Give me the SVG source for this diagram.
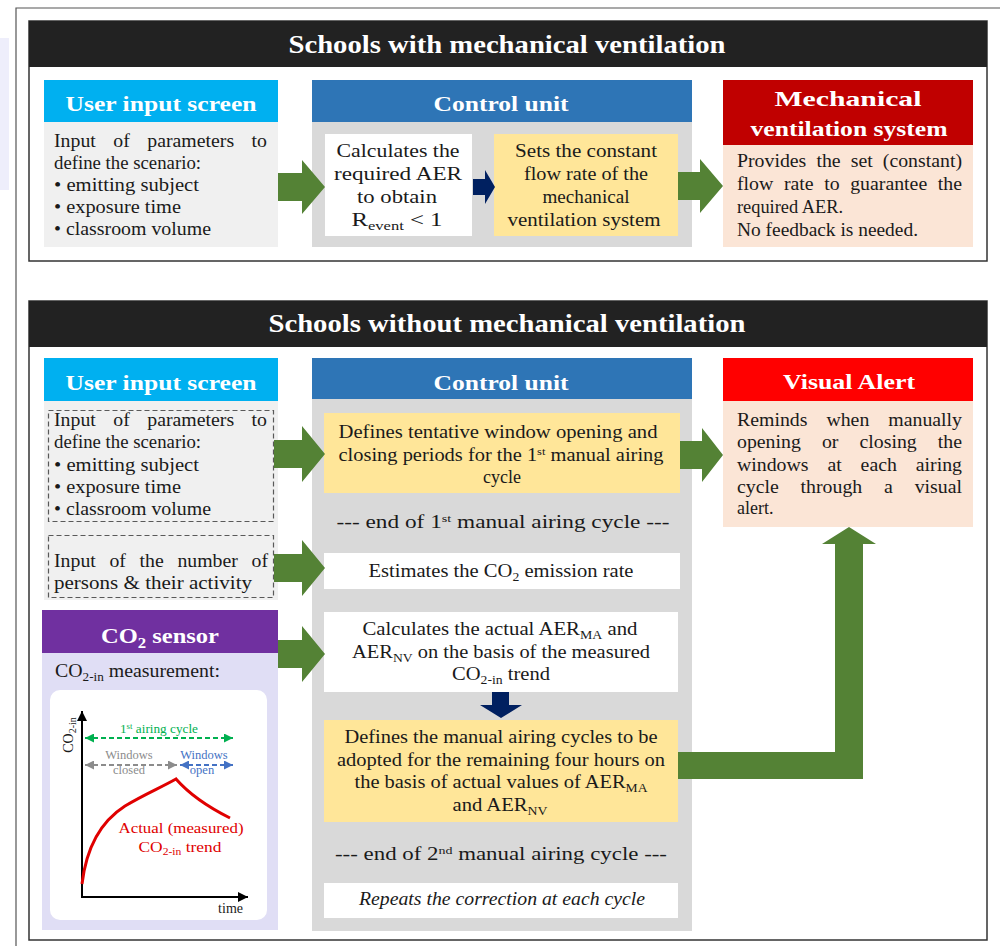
<svg xmlns="http://www.w3.org/2000/svg" width="1000" height="946" viewBox="0 0 1000 946">
<style>
.t{font-family:"Liberation Serif","Times New Roman",serif;font-size:18px;fill:#1a1a1a}
.m{text-anchor:middle}
.hd{font-family:"Liberation Serif","Times New Roman",serif;font-weight:bold;font-size:22px;fill:#fff;text-anchor:middle}
.ttl{font-size:26px}
.sub{font-size:12px}
.sup{font-size:11px}
.box{stroke:none}
.green{fill:#548235}
.navy{fill:#002060}
.dash{fill:none;stroke:#595959;stroke-width:1.2;stroke-dasharray:5 3}
.ch{font-family:"Liberation Serif","Times New Roman",serif}
</style>
<defs>
<marker id="mg" viewBox="0 0 10 10" refX="10" refY="5" markerWidth="5" markerHeight="5" orient="auto-start-reverse" markerUnits="strokeWidth"><path d="M0,0 L10,5 L0,10 z" fill="#00b050"/></marker>
<marker id="mgr" viewBox="0 0 10 10" refX="10" refY="5" markerWidth="5" markerHeight="5" orient="auto-start-reverse" markerUnits="strokeWidth"><path d="M0,0 L10,5 L0,10 z" fill="#8c8c8c"/></marker>
<marker id="mb" viewBox="0 0 10 10" refX="10" refY="5" markerWidth="5" markerHeight="5" orient="auto-start-reverse" markerUnits="strokeWidth"><path d="M0,0 L10,5 L0,10 z" fill="#4472c4"/></marker>
<marker id="mk" viewBox="0 0 10 10" refX="10" refY="5" markerWidth="5" markerHeight="5" orient="auto" markerUnits="strokeWidth"><path d="M0,0 L10,5 L0,10 z" fill="#000"/></marker>
</defs>
<rect width="1000" height="946" fill="#fff"/>
<rect x="0" y="38" width="9" height="152" fill="#eeeefb"/>
<path d="M16,946 V8 H1000" fill="none" stroke="#555" stroke-width="1.2"/>

<!-- ============ TOP SECTION ============ -->
<g id="section-mechanical">
<rect x="29" y="21" width="958" height="240" fill="#fff" stroke="#333" stroke-width="1.5"/>
<rect x="29" y="21" width="958" height="46" fill="#222"/>
<text class="hd ttl" x="507" y="53" textLength="437" lengthAdjust="spacingAndGlyphs">Schools with mechanical ventilation</text>
</g>

<g id="mech-user-input">
<rect x="44" y="80" width="234" height="42" fill="#00b0f0"/>
<rect x="44" y="122" width="234" height="125" fill="#f0f0f0"/>
<text class="hd" x="161" y="111" textLength="191" lengthAdjust="spacingAndGlyphs">User input screen</text>
<text class="t" x="54" y="147" word-spacing="11.4" textLength="213" lengthAdjust="spacingAndGlyphs">Input of parameters to</text>
<text class="t" x="54" y="169" textLength="147" lengthAdjust="spacingAndGlyphs">define the scenario:</text>
<text class="t" x="54" y="191" textLength="145" lengthAdjust="spacingAndGlyphs">• emitting subject</text>
<text class="t" x="54" y="213" textLength="127" lengthAdjust="spacingAndGlyphs">• exposure time</text>
<text class="t" x="54" y="235" textLength="157" lengthAdjust="spacingAndGlyphs">• classroom volume</text>
</g>

<g id="mech-control-unit">
<rect x="312" y="80" width="380" height="42" fill="#2e75b6"/>
<rect x="312" y="122" width="380" height="125" fill="#d9d9d9"/>
<text class="hd" x="501" y="111" textLength="135" lengthAdjust="spacingAndGlyphs">Control unit</text>
</g>

<g id="mech-calc">
<rect x="325" y="134" width="147" height="102" fill="#fff"/>
<text class="t m" x="398" y="157" textLength="123" lengthAdjust="spacingAndGlyphs">Calculates the</text>
<text class="t m" x="398" y="180" textLength="128" lengthAdjust="spacingAndGlyphs">required AER</text>
<text class="t m" x="397" y="203" textLength="80" lengthAdjust="spacingAndGlyphs">to obtain</text>
<text class="t m" x="397" y="226" textLength="91" lengthAdjust="spacingAndGlyphs">R<tspan class="sub" dy="4">event</tspan><tspan dy="-4"> &lt; 1</tspan></text>
</g>

<g id="mech-set">
<rect x="494" y="134" width="184" height="102" fill="#ffe699"/>
<text class="t m" x="586" y="157" textLength="142" lengthAdjust="spacingAndGlyphs">Sets the constant</text>
<text class="t m" x="586" y="180" textLength="124" lengthAdjust="spacingAndGlyphs">flow rate of the</text>
<text class="t m" x="586" y="203" textLength="87" lengthAdjust="spacingAndGlyphs">mechanical</text>
<text class="t m" x="584" y="226" textLength="153" lengthAdjust="spacingAndGlyphs">ventilation system</text>
</g>

<g id="mech-system">
<rect x="723" y="80" width="250" height="65" fill="#c00000"/>
<rect x="723" y="145" width="250" height="102" fill="#fbe5d6"/>
<text class="hd" x="848" y="106" textLength="147" lengthAdjust="spacingAndGlyphs">Mechanical</text>
<text class="hd" x="849" y="136" textLength="197" lengthAdjust="spacingAndGlyphs">ventilation system</text>
<text class="t" x="737" y="167" word-spacing="4.7" textLength="225" lengthAdjust="spacingAndGlyphs">Provides the set (constant)</text>
<text class="t" x="737" y="190" word-spacing="5.1" textLength="225" lengthAdjust="spacingAndGlyphs">flow rate to guarantee the</text>
<text class="t" x="737" y="213" textLength="106" lengthAdjust="spacingAndGlyphs">required AER.</text>
<text class="t" x="737" y="236" textLength="181" lengthAdjust="spacingAndGlyphs">No feedback is needed.</text>
</g>

<!-- ============ BOTTOM SECTION ============ -->
<g id="section-natural">
<rect x="29" y="301" width="958" height="639" fill="#fff" stroke="#333" stroke-width="1.5"/>
<rect x="29" y="301" width="958" height="46" fill="#222"/>
<text class="hd ttl" x="507" y="332" textLength="477" lengthAdjust="spacingAndGlyphs">Schools without mechanical ventilation</text>
</g>

<g id="nat-user-input">
<rect x="44" y="358" width="234" height="43" fill="#00b0f0"/>
<rect x="44" y="401" width="234" height="199" fill="#f0f0f0"/>
<text class="hd" x="161" y="390" textLength="191" lengthAdjust="spacingAndGlyphs">User input screen</text>
</g>

<g id="nat-input-params">
<rect class="dash" x="48.5" y="410.5" width="225" height="111"/>
<text class="t" x="54" y="426" word-spacing="11.4" textLength="213" lengthAdjust="spacingAndGlyphs">Input of parameters to</text>
<text class="t" x="54" y="448" textLength="147" lengthAdjust="spacingAndGlyphs">define the scenario:</text>
<text class="t" x="54" y="471" textLength="145" lengthAdjust="spacingAndGlyphs">• emitting subject</text>
<text class="t" x="54" y="493" textLength="127" lengthAdjust="spacingAndGlyphs">• exposure time</text>
<text class="t" x="54" y="515" textLength="157" lengthAdjust="spacingAndGlyphs">• classroom volume</text>
</g>

<g id="nat-input-persons">
<rect class="dash" x="48.5" y="535.5" width="225" height="62"/>
<text class="t" x="54" y="567" word-spacing="7.9" textLength="214" lengthAdjust="spacingAndGlyphs">Input of the number of</text>
<text class="t" x="54" y="589" textLength="198" lengthAdjust="spacingAndGlyphs">persons &amp; their activity</text>
</g>

<g id="co2-sensor">
<rect x="42" y="610" width="236" height="43" fill="#7030a0"/>
<rect x="42" y="653" width="236" height="277" fill="#e0def5"/>
<text class="hd" x="160" y="643" textLength="118" lengthAdjust="spacingAndGlyphs">CO<tspan font-size="15" dy="5">2</tspan><tspan dy="-5"> sensor</tspan></text>
<text class="t" x="55" y="677" textLength="165" lengthAdjust="spacingAndGlyphs">CO<tspan class="sub" dy="4">2-in</tspan><tspan dy="-4"> measurement:</tspan></text>
<rect x="50" y="690" width="217" height="230" rx="10" fill="#fff"/>
<!-- chart -->
<line x1="82" y1="897" x2="82" y2="711" stroke="#000" stroke-width="2" marker-end="url(#mk)"/>
<line x1="81" y1="897" x2="248" y2="897" stroke="#000" stroke-width="2" marker-end="url(#mk)"/>
<text class="ch" x="68" y="735" font-size="14" fill="#1a1a1a" text-anchor="middle" transform="rotate(-90 68 735)" dy="5">CO<tspan font-size="10" dy="3">2-in</tspan></text>
<text class="ch" x="243" y="913" font-size="14" fill="#1a1a1a" text-anchor="end">time</text>
<line x1="85" y1="738" x2="233" y2="738" stroke="#00b050" stroke-width="1.8" stroke-dasharray="5 3" marker-start="url(#mg)" marker-end="url(#mg)"/>
<text class="ch" x="159" y="733" font-size="12" fill="#00b050" text-anchor="middle" textLength="78" lengthAdjust="spacingAndGlyphs">1<tspan font-size="8" dy="-4">st</tspan><tspan dy="4"> airing cycle</tspan></text>
<line x1="85" y1="765" x2="177" y2="765" stroke="#8c8c8c" stroke-width="1.8" stroke-dasharray="5 3" marker-start="url(#mgr)" marker-end="url(#mgr)"/>
<line x1="180" y1="765" x2="233" y2="765" stroke="#4472c4" stroke-width="1.8" stroke-dasharray="5 3" marker-start="url(#mb)" marker-end="url(#mb)"/>
<text class="ch" x="129" y="759" font-size="12.5" fill="#8c8c8c" text-anchor="middle">Windows</text>
<text class="ch" x="129" y="774" font-size="12.5" fill="#8c8c8c" text-anchor="middle">closed</text>
<text class="ch" x="204" y="759" font-size="12.5" fill="#4472c4" text-anchor="middle">Windows</text>
<text class="ch" x="202" y="774" font-size="12.5" fill="#4472c4" text-anchor="middle">open</text>
<path d="M82,884 C86,850 100,822 125,806 C145,794 160,788 176,779 C190,795 208,807 230,818" fill="none" stroke="#e00000" stroke-width="3"/>
<text class="ch" x="181" y="833" font-size="15" fill="#e00000" text-anchor="middle" textLength="125" lengthAdjust="spacingAndGlyphs">Actual (measured)</text>
<text class="ch" x="180" y="852" font-size="15" fill="#e00000" text-anchor="middle" textLength="83" lengthAdjust="spacingAndGlyphs">CO<tspan font-size="10" dy="3">2-in</tspan><tspan dy="-3"> trend</tspan></text>
</g>

<g id="nat-control-unit">
<rect x="312" y="358" width="380" height="41" fill="#2e75b6"/>
<rect x="312" y="399" width="380" height="532" fill="#d9d9d9"/>
<text class="hd" x="501" y="390" textLength="135" lengthAdjust="spacingAndGlyphs">Control unit</text>
</g>

<g id="nat-define-tentative">
<rect x="324" y="413" width="356" height="80" fill="#ffe699"/>
<text class="t m" x="498" y="438" textLength="319" lengthAdjust="spacingAndGlyphs">Defines tentative window opening and</text>
<text class="t m" x="501" y="461" textLength="325" lengthAdjust="spacingAndGlyphs">closing periods for the 1<tspan class="sup" dy="-6">st</tspan><tspan dy="6"> manual airing</tspan></text>
<text class="t m" x="502" y="483">cycle</text>
</g>

<g id="nat-end-first">
<text class="t m" x="503" y="528" textLength="333" lengthAdjust="spacingAndGlyphs">---   end of 1<tspan class="sup" dy="-6">st</tspan><tspan dy="6"> manual airing cycle   ---</tspan></text>
</g>

<g id="nat-estimate">
<rect x="324" y="553" width="356" height="36" fill="#fff"/>
<text class="t m" x="501" y="577" textLength="265" lengthAdjust="spacingAndGlyphs">Estimates the CO<tspan class="sub" dy="4">2</tspan><tspan dy="-4"> emission rate</tspan></text>
</g>

<g id="nat-calculate">
<rect x="324" y="612" width="354" height="80" fill="#fff"/>
<text class="t m" x="500" y="635" textLength="275" lengthAdjust="spacingAndGlyphs">Calculates the actual AER<tspan class="sub" dy="4">MA</tspan><tspan dy="-4"> and</tspan></text>
<text class="t m" x="501" y="658" textLength="298" lengthAdjust="spacingAndGlyphs">AER<tspan class="sub" dy="4">NV</tspan><tspan dy="-4"> on the basis of the measured</tspan></text>
<text class="t m" x="501" y="680" textLength="98" lengthAdjust="spacingAndGlyphs">CO<tspan class="sub" dy="4">2-in</tspan><tspan dy="-4"> trend</tspan></text>
</g>

<g id="nat-define-manual">
<rect x="324" y="720" width="354" height="102" fill="#ffe699"/>
<text class="t m" x="501" y="743" textLength="313" lengthAdjust="spacingAndGlyphs">Defines the manual airing cycles to be</text>
<text class="t m" x="501" y="766" textLength="328" lengthAdjust="spacingAndGlyphs">adopted for the remaining four hours on</text>
<text class="t m" x="501" y="788" textLength="293" lengthAdjust="spacingAndGlyphs">the basis of actual values of AER<tspan class="sub" dy="4">MA</tspan></text>
<text class="t m" x="500" y="811" textLength="95" lengthAdjust="spacingAndGlyphs">and AER<tspan class="sub" dy="4">NV</tspan></text>
</g>

<g id="nat-end-second">
<text class="t m" x="501" y="860" textLength="332" lengthAdjust="spacingAndGlyphs">---   end of 2<tspan class="sup" dy="-6">nd</tspan><tspan dy="6"> manual airing cycle ---</tspan></text>
</g>

<g id="nat-repeat">
<rect x="324" y="883" width="354" height="35" fill="#fff"/>
<text class="t m" x="502" y="905" font-style="italic" textLength="286" lengthAdjust="spacingAndGlyphs">Repeats the correction at each cycle</text>
</g>

<g id="visual-alert">
<rect x="723" y="358" width="250" height="43" fill="#ff0000"/>
<rect x="723" y="401" width="250" height="126" fill="#fbe5d6"/>
<text class="hd" x="849" y="389" textLength="132" lengthAdjust="spacingAndGlyphs">Visual Alert</text>
<text class="t" x="737" y="426" word-spacing="12.8" textLength="225" lengthAdjust="spacingAndGlyphs">Reminds when manually</text>
<text class="t" x="737" y="448" word-spacing="14.7" textLength="225" lengthAdjust="spacingAndGlyphs">opening or closing the</text>
<text class="t" x="737" y="471" word-spacing="12.7" textLength="225" lengthAdjust="spacingAndGlyphs">windows at each airing</text>
<text class="t" x="737" y="493" word-spacing="15.3" textLength="225" lengthAdjust="spacingAndGlyphs">cycle through a visual</text>
<text class="t" x="737" y="514">alert.</text>
</g>

<!-- ============ CONNECTORS ============ -->
<g id="connectors">
<polygon class="green" points="278,173 302,173 302,160 325,187 302,214 302,201 278,201"/>
<polygon class="navy" points="473,179 485,179 485,170 495,187 485,204 485,195 473,195"/>
<polygon class="green" points="678,172 700,172 700,159 723,186 700,213 700,200 678,200"/>
<polygon class="green" points="274,440 302,440 302,426 325,454 302,482 302,468 274,468"/>
<polygon class="green" points="274,554 302,554 302,540 325,568 302,596 302,582 274,582"/>
<polygon class="green" points="278,640 302,640 302,626 325,654 302,682 302,668 278,668"/>
<polygon class="green" points="680,441 702,441 702,428 723,455 702,482 702,469 680,469"/>
<polygon class="navy" points="492,692 509,692 509,705 522,705 501,718 480,705 492,705"/>
<polygon class="green" points="678,752 835,752 835,544 822,544 849,527 876,544 863,544 863,779 678,779"/>
</g>
</svg>
